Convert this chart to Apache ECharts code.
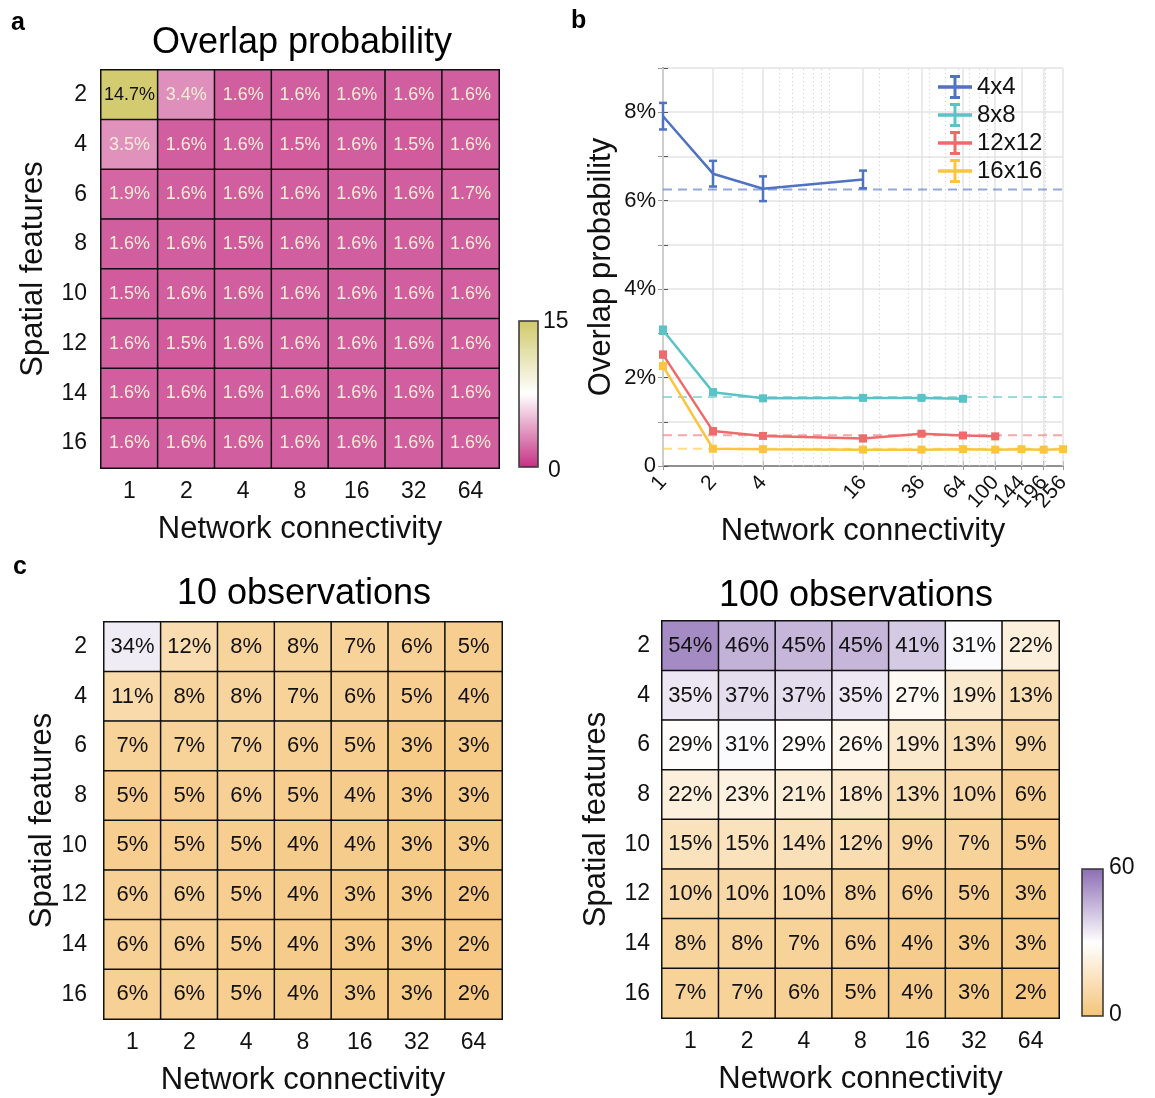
<!DOCTYPE html>
<html><head><meta charset="utf-8">
<script src="https://cdn.jsdelivr.net/npm/echarts@6/dist/echarts.min.js"></script>
<style>html,body{margin:0;padding:0;background:#fff}#c{width:1155px;height:1098px}</style>
</head><body><div id="c"></div>
<script>
// ---------- data ----------
const connectivity = ['1','2','4','8','16','32','64'];
const spatialFeatures = ['2','4','6','8','10','12','14','16'];

const overlapA = [
  [14.7,3.4,1.6,1.6,1.6,1.6,1.6],
  [3.5,1.6,1.6,1.5,1.6,1.5,1.6],
  [1.9,1.6,1.6,1.6,1.6,1.6,1.7],
  [1.6,1.6,1.5,1.6,1.6,1.6,1.6],
  [1.5,1.6,1.6,1.6,1.6,1.6,1.6],
  [1.6,1.5,1.6,1.6,1.6,1.6,1.6],
  [1.6,1.6,1.6,1.6,1.6,1.6,1.6],
  [1.6,1.6,1.6,1.6,1.6,1.6,1.6]
];
const obs10 = [
  [34,12,8,8,7,6,5],
  [11,8,8,7,6,5,4],
  [7,7,7,6,5,3,3],
  [5,5,6,5,4,3,3],
  [5,5,5,4,4,3,3],
  [6,6,5,4,3,3,2],
  [6,6,5,4,3,3,2],
  [6,6,5,4,3,3,2]
];
const obs100 = [
  [54,46,45,45,41,31,22],
  [35,37,37,35,27,19,13],
  [29,31,29,26,19,13,9],
  [22,23,21,18,13,10,6],
  [15,15,14,12,9,7,5],
  [10,10,10,8,6,5,3],
  [8,8,7,6,4,3,3],
  [7,7,6,5,4,3,2]
];

const bConnectivity = [1,2,4,16,36,64,100,144,196,256];
const bTickLabels = [1,2,4,16,36,64,100,144,196,256];
// tick labels split over overlapping label rows so neighbouring rotated labels are all kept
const bTickLabelsA = [1,2,4,16,36,64,100];
const bTickLabelsB = [144,256];
const bTickLabelsC = [196];
const bMinorGrid = [3,5,6,7,8,9,10,20,30,40,50,60,70,80,90,200];

const seriesNames = ['4x4','8x8','12x12','16x16'];
const vals4 = [7.91,6.61,6.27,6.48];
const err4  = [0.30,0.29,0.28,0.20];
const vals8 = [3.07,1.67,1.53,1.54,1.54,1.52];
const err8  = [0.08,0.06,0.03,0.03,0.02,0.02];
const vals12 = [2.52,0.79,0.68,0.62,0.73,0.69,0.67];
const err12  = [0.06,0.04,0.02,0.02,0.02,0.02,0.02];
const vals16 = [2.26,0.39,0.38,0.37,0.37,0.38,0.37,0.38,0.37,0.38];
const err16  = [0.05,0.02,0.01,0.01,0.01,0.01,0.01,0.01,0.01,0.01];
const chanceLevels = [6.25,1.5625,0.694,0.391];

const colorsB = ['#4f72c2','#5ac3c7','#ef6b6b','#fdc53d'];

// ---------- build ----------
const FONT = '"Liberation Sans", Arial, Helvetica, sans-serif';
const chart = echarts.init(document.getElementById('c'), null, {renderer:'canvas'});

function heatData(mat, labelColorFn){
  const out = [];
  mat.forEach((row, r) => row.forEach((v, c) => {
    const item = {value:[c, r, v]};
    if (labelColorFn) item.label = {color: labelColorFn(v)};
    out.push(item);
  }));
  return out;
}

const valsB = [vals4, vals8, vals12, vals16];
const errsB = [err4, err8, err12, err16];
const lg = x => Math.log2(x);

function errRender(params, api){
  const x = api.value(0), lo = api.value(1), hi = api.value(2);
  const p1 = api.coord([x, hi]), p2 = api.coord([x, lo]);
  const w = 4;
  const style = {stroke: api.visual('color'), lineWidth: 2.5};
  return {type:'group', children:[
    {type:'line', shape:{x1:p1[0], y1:p1[1], x2:p2[0], y2:p2[1]}, style},
    {type:'line', shape:{x1:p1[0]-w, y1:p1[1], x2:p1[0]+w, y2:p1[1]}, style},
    {type:'line', shape:{x1:p2[0]-w, y1:p2[1], x2:p2[0]+w, y2:p2[1]}, style}
  ]};
}

const series = [];
series.push({
  type:'heatmap', xAxisIndex:0, yAxisIndex:0,
  data: heatData(overlapA, v => v > 7.5 ? '#111' : '#f5edd4'),
  label:{show:true, fontSize:18, fontFamily:FONT, formatter: p => p.value[2].toFixed(1)+'%'},
  itemStyle:{borderColor:'#111', borderWidth:1.5},
  emphasis:{disabled:true}
});
series.push({
  type:'heatmap', xAxisIndex:3, yAxisIndex:3,
  data: heatData(obs10),
  label:{show:true, fontSize:22, color:'#111', fontFamily:FONT, formatter: p => p.value[2]+'%'},
  itemStyle:{borderColor:'#111', borderWidth:1.5},
  emphasis:{disabled:true}
});
series.push({
  type:'heatmap', xAxisIndex:4, yAxisIndex:4,
  data: heatData(obs100),
  label:{show:true, fontSize:22, color:'#111', fontFamily:FONT, formatter: p => p.value[2]+'%'},
  itemStyle:{borderColor:'#111', borderWidth:1.5},
  emphasis:{disabled:true}
});
chanceLevels.forEach((lev, i) => {
  const s = {
    type:'line', xAxisIndex:1, yAxisIndex:1, name:'chance'+i,
    data:[[0, lev],[8, lev]], symbol:'none', silent:true, z:3,
    lineStyle:{color:colorsB[i], width:2, type:[9,6], opacity:0.6}
  };
  if (i === 0) {
    s.markLine = {
      silent:true, symbol:['none','none'], label:{show:false}, z:1,
      data: bMinorGrid.map(v => ({xAxis: lg(v), lineStyle:{color:'#cfcfcf', width:1, type:[1,3]}}))
        .concat(bTickLabels.map(v => ({xAxis: lg(v), lineStyle:{color:'#e3e3e3', width:1.5, type:'solid'}})))
    };
  }
  series.push(s);
});
valsB.forEach((vals, i) => {
  series.push({
    type:'line', name:seriesNames[i], xAxisIndex:1, yAxisIndex:1,
    data: vals.map((v, k) => [lg(bConnectivity[k]), v]),
    symbol: i === 0 ? 'none' : 'rect', symbolSize: 8,
    itemStyle:{color:colorsB[i]},
    lineStyle:{color:colorsB[i], width:2.5}, z:5
  });
});
valsB.forEach((vals, i) => {
  series.push({
    type:'custom', name:seriesNames[i]+' err', xAxisIndex:1, yAxisIndex:1,
    itemStyle:{color:colorsB[i]}, z:6,
    renderItem: errRender,
    data: vals.map((v, k) => [lg(bConnectivity[k]), v - errsB[i][k], v + errsB[i][k]])
  });
});

const iconPath = 'path://M0,10.25H34V13.75H0Z M15.5,0H18.5V24H15.5Z M12,0H22V3H12Z M12,21H22V24H12Z';

const catLabel = {fontSize:23, color:'#111', fontFamily:FONT, margin:12};
const nameStyle = {fontSize:31, color:'#111', fontFamily:FONT};
const bLabelStyle = {rotate:48, fontSize:21, color:'#111', margin:13,
  showMaxLabel:true, showMinLabel:true, hideOverlap:false,
  formatter: v => String(Math.round(Math.pow(2, v)))};

function extraLabelAxis(vals){
  return {type:'value', gridIndex:1, min:0, max:8, position:'bottom', offset:0,
    axisLine:{show:false}, axisTick:{show:false}, splitLine:{show:false},
    axisLabel:Object.assign({customValues: vals.map(lg)}, bLabelStyle)};
}

const option = {
  animation:false,
  textStyle:{fontFamily:FONT},
  grid:[
    {left:101, top:70, width:398, height:398},
    {left:663, top:68, width:400, height:398},
    {left:104, top:622, width:398, height:397},
    {left:662, top:621, width:397, height:397}
  ],
  xAxis:[
    {type:'category', gridIndex:0, data:connectivity, axisLine:{show:false}, axisTick:{show:false}, axisLabel:catLabel,
     name:'Network connectivity', nameLocation:'middle', nameGap:46, nameTextStyle:nameStyle},
    {type:'value', gridIndex:1, min:0, max:8, position:'bottom',
     axisLine:{show:true, lineStyle:{color:'#555', width:1.5}},
     axisTick:{show:true, inside:true, length:5, customValues: bTickLabels.map(lg), lineStyle:{color:'#555'}},
     axisLabel:Object.assign({customValues: bTickLabelsA.map(lg)}, bLabelStyle),
     splitLine:{show:false},
     name:'Network connectivity', nameLocation:'middle', nameGap:50, nameTextStyle:nameStyle},
    {type:'value', gridIndex:1, min:0, max:8, position:'top',
     axisLine:{show:true, lineStyle:{color:'#999', width:1.5}},
     axisTick:{show:true, inside:true, length:4, customValues: bTickLabels.map(lg), lineStyle:{color:'#999'}},
     axisLabel:{show:false}, splitLine:{show:false}},
    {type:'category', gridIndex:2, data:connectivity, axisLine:{show:false}, axisTick:{show:false}, axisLabel:catLabel,
     name:'Network connectivity', nameLocation:'middle', nameGap:46, nameTextStyle:nameStyle},
    {type:'category', gridIndex:3, data:connectivity, axisLine:{show:false}, axisTick:{show:false}, axisLabel:catLabel,
     name:'Network connectivity', nameLocation:'middle', nameGap:46, nameTextStyle:nameStyle},
    extraLabelAxis(bTickLabelsB),
    extraLabelAxis(bTickLabelsC)
  ],
  yAxis:[
    {type:'category', gridIndex:0, data:spatialFeatures, inverse:true, axisLine:{show:false}, axisTick:{show:false},
     axisLabel:Object.assign({}, catLabel, {margin:14}),
     name:'Spatial features', nameLocation:'middle', nameGap:52, nameTextStyle:nameStyle},
    {type:'value', gridIndex:1, min:0, max:9, interval:1,
     axisLine:{show:true, lineStyle:{color:'#555', width:1.5}},
     axisTick:{show:true, inside:true, length:5, lineStyle:{color:'#555'}},
     axisLabel:{fontSize:22, color:'#111', margin:7, formatter: v => v === 0 ? '0' : (v % 2 === 0 ? v + '%' : '')},
     splitLine:{show:true, lineStyle:{color:'#e3e3e3', width:1.5}},
     name:'Overlap probability', nameLocation:'middle', nameGap:46, nameTextStyle:nameStyle},
    {type:'value', gridIndex:1, min:0, max:9, interval:1, position:'right',
     axisLine:{show:true, lineStyle:{color:'#999', width:1.5}},
     axisTick:{show:true, inside:true, length:5, lineStyle:{color:'#999'}},
     axisLabel:{show:false}, splitLine:{show:false}},
    {type:'category', gridIndex:2, data:spatialFeatures, inverse:true, axisLine:{show:false}, axisTick:{show:false},
     axisLabel:Object.assign({}, catLabel, {margin:17}),
     name:'Spatial features', nameLocation:'middle', nameGap:44, nameTextStyle:nameStyle},
    {type:'category', gridIndex:3, data:spatialFeatures, inverse:true, axisLine:{show:false}, axisTick:{show:false}, axisLabel:catLabel,
     name:'Spatial features', nameLocation:'middle', nameGap:50, nameTextStyle:nameStyle}
  ],
  visualMap:[
    {type:'continuous', min:0, max:15, seriesIndex:0, calculable:false, text:null, showLabel:false,
     left:519, top:321, itemWidth:19, itemHeight:146, padding:0, hoverLink:false,
     inRange:{color:['#c53284','#ffffff','#d0c96a']}},
    {type:'continuous', min:0, max:60, seriesIndex:[1,2], calculable:false, text:null, showLabel:false,
     left:1082, top:869, itemWidth:21, itemHeight:147, padding:0, hoverLink:false,
     inRange:{color:['#f5c47a','#ffffff','#8d6eb5']}}
  ],
  legend:{
    left:938, top:75, orient:'vertical', itemWidth:34, itemHeight:24, itemGap:4, padding:0,
    textStyle:{fontSize:24, color:'#111', fontFamily:FONT},
    data: seriesNames.map(n => ({name:n, icon:iconPath})),
    selectedMode:false
  },
  graphic:[
    {type:'text', x:11, y:11, style:{text:'a', fontSize:25, fontWeight:'bold', fill:'#000', fontFamily:FONT}},
    {type:'text', x:571, y:9, style:{text:'b', fontSize:25, fontWeight:'bold', fill:'#000', fontFamily:FONT}},
    {type:'text', x:13, y:555, style:{text:'c', fontSize:25, fontWeight:'bold', fill:'#000', fontFamily:FONT}},
    {type:'text', x:302, y:43, style:{text:'Overlap probability', fontSize:36, fill:'#000', fontFamily:FONT, align:'center', verticalAlign:'middle'}},
    {type:'text', x:304, y:594, style:{text:'10 observations', fontSize:36, fill:'#000', fontFamily:FONT, align:'center', verticalAlign:'middle'}},
    {type:'text', x:856, y:596, style:{text:'100 observations', fontSize:36, fill:'#000', fontFamily:FONT, align:'center', verticalAlign:'middle'}},
    {type:'rect', shape:{x:519, y:321, width:19, height:146}, style:{fill:'none', stroke:'#333', lineWidth:1.5}, z:100},
    {type:'rect', shape:{x:1082, y:869, width:21, height:147}, style:{fill:'none', stroke:'#333', lineWidth:1.5}, z:100},
    {type:'text', x:543, y:322, style:{text:'15', fontSize:23, fill:'#111', fontFamily:FONT, verticalAlign:'middle'}},
    {type:'text', x:548, y:471, style:{text:'0', fontSize:23, fill:'#111', fontFamily:FONT, verticalAlign:'middle'}},
    {type:'text', x:1109, y:868, style:{text:'60', fontSize:23, fill:'#111', fontFamily:FONT, verticalAlign:'middle'}},
    {type:'text', x:1109, y:1015, style:{text:'0', fontSize:23, fill:'#111', fontFamily:FONT, verticalAlign:'middle'}}
  ],
  series: series
};
chart.setOption(option);
</script>
</body></html>
